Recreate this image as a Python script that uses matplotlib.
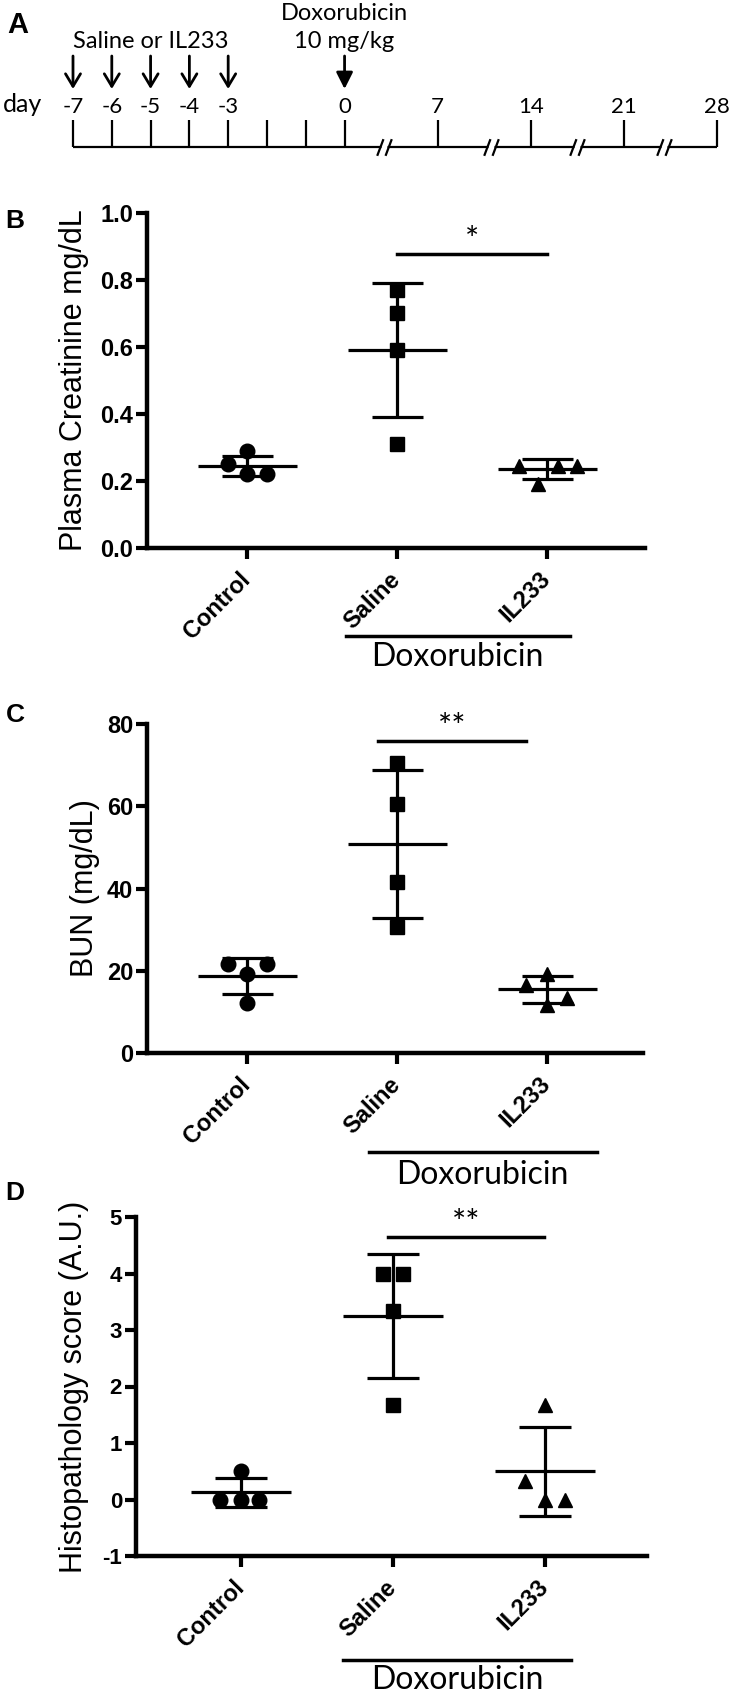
import numpy as np
import matplotlib
matplotlib.use("Agg")
import matplotlib.pyplot as plt
from matplotlib.path import Path

plt.rcParams['font.family'] = ['Liberation Sans', 'DejaVu Sans']
plt.rcParams['axes.unicode_minus'] = False

# panel A: dosing timeline
timeline_days = [-7, -6, -5, -4, -3, -2, -1, 0, 7, 14, 21, 28]
labelled_days = [-7, -6, -5, -4, -3, 0, 7, 14, 21, 28]
saline_days = [-7, -6, -5, -4, -3]
dox_days = [0]
break_days = [3, 11, 17.5, 24]

groups = ['Control', 'Saline', 'IL233']

# panel B: plasma creatinine (mg/dL)
creat_control = [0.25, 0.29, 0.22, 0.22]
creat_saline = [0.77, 0.70, 0.59, 0.31]
creat_il233 = [0.245, 0.245, 0.245, 0.19]
creat_mean = [0.245, 0.59, 0.235]
creat_sd = [0.03, 0.20, 0.03]

# panel C: BUN (mg/dL)
bun_control = [21.6, 21.6, 19.2, 12.2]
bun_saline = [70.5, 60.5, 41.6, 30.6]
bun_il233 = [19.2, 16.5, 13.4, 11.7]
bun_mean = [18.7, 50.8, 15.5]
bun_sd = [4.4, 17.9, 3.3]

# panel D: histopathology score (A.U.)
histo_control = [0.5, 0.0, 0.0, 0.0]
histo_saline = [4.0, 4.0, 3.33, 1.67]
histo_il233 = [1.67, 0.33, 0.0, 0.0]
histo_mean = [0.125, 3.25, 0.5]
histo_sd = [0.25, 1.1, 0.79]

# horizontal spread of the dots inside each group (layout only)
creat_jitter = [[-0.13, 0, 0, 0.13], [0, 0, 0, 0], [-0.19, 0.07, 0.2, -0.06]]
bun_jitter = [[-0.13, 0.13, 0, 0], [0, 0, 0, 0], [0, -0.14, 0.13, 0]]
histo_jitter = [[0, -0.14, 0, 0.12], [-0.066, 0.066, 0, 0], [0, -0.13, 0, 0.13]]

W, H = 733, 1695
fig = plt.figure(figsize=(W / 100, H / 100), dpi=100)
LATO = ['Lato', 'DejaVu Sans']


def px_axes(left, top, right, bottom):
    return fig.add_axes([left / W, 1 - bottom / H, (right - left) / W, (bottom - top) / H])


# ---------------- A ----------------
def fwd(d):
    d = np.asarray(d, float)
    return np.where(d <= 0, d, d * 2.4 / 7)


def inv(p):
    p = np.asarray(p, float)
    return np.where(p <= 0, p, p * 7 / 2.4)


axA = px_axes(73, 0, 717, 160)
axA.set_xscale('function', functions=(fwd, inv))
axA.set_xlim(-7, 28)
axA.set_ylim(160, 0)
axA.axis('off')

axA.plot([-7, 28], [147, 147], color='k', lw=1.6, clip_on=False, solid_capstyle='butt')
axA.vlines(timeline_days, 120, 147, color='k', lw=1.6, clip_on=False)
for d in labelled_days:
    axA.text(d, 107, str(d), ha='center', va='center', family=LATO, fontsize=16)
for d in saline_days:
    axA.annotate('', xy=(d, 89), xytext=(d, 56),
                 arrowprops=dict(arrowstyle='->, head_length=0.45, head_width=0.27', lw=2,
                                 color='k', shrinkA=0, shrinkB=0, mutation_scale=20))
for d in dox_days:
    axA.annotate('', xy=(d, 89), xytext=(d, 56),
                 arrowprops=dict(arrowstyle='-|>, head_length=0.5, head_width=0.25', lw=2,
                                 color='k', shrinkA=0, shrinkB=0, mutation_scale=20))
axA.text(np.mean(saline_days), 42, 'Saline or IL233', ha='center', va='center',
         family=LATO, fontsize=17)
axA.text(dox_days[0], 14, 'Doxorubicin', ha='center', va='center', family=LATO, fontsize=17)
axA.text(dox_days[0], 42, '10 mg/kg', ha='center', va='center', family=LATO, fontsize=17)
axA.annotate('day', xy=(-7, 105), xytext=(-22, 0), textcoords='offset points',
             ha='right', va='center', family=LATO, fontsize=18)

# "//" axis-break marks on the timeline
slash = Path([(-7, -8), (-1, 8), (1, -8), (7, 8)],
             [Path.MOVETO, Path.LINETO, Path.MOVETO, Path.LINETO])
axA.plot(break_days, [147] * len(break_days), ls='none', marker='s', ms=5,
         mfc='white', mec='none', zorder=3, clip_on=False)
axA.plot(break_days, [147] * len(break_days), ls='none', marker=slash, ms=12,
         mec='k', mew=1.6, zorder=4, clip_on=False)

fig.text(7 / W, 1 - 25 / H, 'A', ha='left', va='center', fontsize=21, fontweight='bold')


# ---------------- B, C, D ----------------
def dot_panel(ax, data, jitter, means, sds, ylim, yticks, fmt, ylabel, label_x,
              xlim, ytick_fs):
    x = np.arange(len(groups))
    means = np.array(means)
    sds = np.array(sds)
    for i, (vals, jit, mk, ms) in enumerate(zip(data, jitter, ['o', 's', '^'], [10.5, 9.5, 10])):
        ax.plot(i + np.array(jit), vals, ls='none', marker=mk, ms=ms, color='k',
                clip_on=False, zorder=3)
    # mean line, SD caps and SD whisker
    ax.hlines(means, x - 0.33, x + 0.33, color='k', lw=2.3)
    ax.hlines(means + sds, x - 0.17, x + 0.17, color='k', lw=2.3)
    ax.hlines(means - sds, x - 0.17, x + 0.17, color='k', lw=2.3)
    ax.vlines(x, means - sds, means + sds, color='k', lw=2.3)

    ax.set_xlim(*xlim)
    ax.set_ylim(*ylim)
    ax.set_yticks(yticks)
    ax.set_yticklabels([fmt.format(v) for v in yticks], fontsize=ytick_fs, fontweight='bold')
    ax.set_xticks(x)
    ax.set_xticklabels(groups, rotation=45, ha='right', va='center',
                       rotation_mode='anchor', fontsize=17, fontweight='bold')
    ax.tick_params(direction='out', length=8, width=3, pad=2)
    ax.tick_params(axis='x', pad=12)
    for s in ['top', 'right']:
        ax.spines[s].set_visible(False)
    for s in ['left', 'bottom']:
        ax.spines[s].set_linewidth(3.2)
    ax.set_ylabel(ylabel, fontsize=22)
    ax.yaxis.set_label_coords(label_x, 0.5)


def group_bracket(ax, x0, x1, y_line, y_text):
    tr = ax.get_xaxis_transform()
    ax.plot([x0, x1], [y_line, y_line], color='k', lw=2.5, transform=tr, clip_on=False)
    ax.text((x0 + x1) / 2, y_text, 'Doxorubicin', transform=tr, ha='center',
            va='center', family=LATO, fontsize=23)


def signif(ax, x0, x1, y_line, stars):
    ax.plot([x0, x1], [y_line, y_line], color='k', lw=2.5, clip_on=False)
    ax.annotate(stars, xy=((x0 + x1) / 2, y_line), xytext=(0, 3),
                textcoords='offset points', ha='center', va='baseline',
                family=LATO, fontsize=24)


axB = px_axes(147, 213, 645, 548)
dot_panel(axB, [creat_control, creat_saline, creat_il233], creat_jitter, creat_mean, creat_sd,
          (0, 1.0), [0.0, 0.2, 0.4, 0.6, 0.8, 1.0], '{:.1f}', 'Plasma Creatinine mg/dL',
          -0.116, (-0.667, 2.653), 17)
signif(axB, 1, 2, 0.878, '*')
group_bracket(axB, 0.66, 2.15, -0.263, -0.325)
fig.text(5 / W, 1 - 221 / H, 'B', ha='left', va='center', fontsize=19, fontweight='bold')

axC = px_axes(147, 724, 643, 1053)
dot_panel(axC, [bun_control, bun_saline, bun_il233], bun_jitter, bun_mean, bun_sd,
          (0, 80), [0, 20, 40, 60, 80], '{:d}', 'BUN (mg/dL)',
          -0.095, (-0.667, 2.64), 17)
signif(axC, 0.87, 1.86, 75.8, '**')
group_bracket(axC, 0.81, 2.33, -0.30, -0.37)
fig.text(6 / W, 1 - 715 / H, 'C', ha='left', va='center', fontsize=19, fontweight='bold')

axD = px_axes(136, 1217, 647, 1556)
dot_panel(axD, [histo_control, histo_saline, histo_il233], histo_jitter, histo_mean, histo_sd,
          (-1, 5), [-1, 0, 1, 2, 3, 4, 5], '{:d}', 'Histopathology score (A.U.)',
          -0.092, (-0.69, 2.67), 16)
signif(axD, 0.97, 1.99, 4.65, '**')
group_bracket(axD, 0.67, 2.17, -0.307, -0.366)
fig.text(5 / W, 1 - 1193 / H, 'D', ha='left', va='center', fontsize=19, fontweight='bold')

fig.savefig('out.png', dpi=100)
